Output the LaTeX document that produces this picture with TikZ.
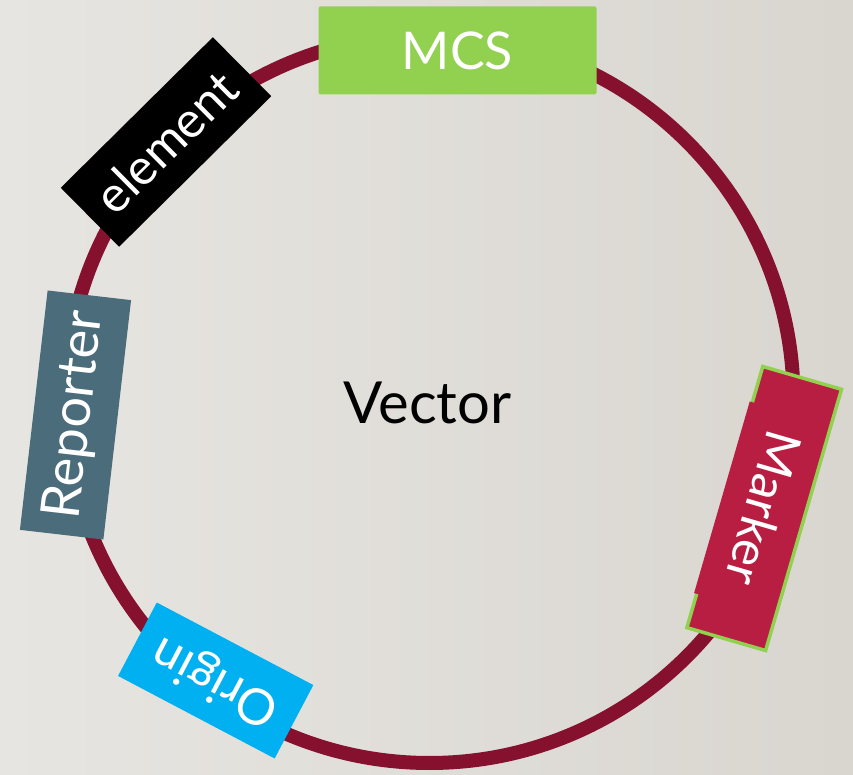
\documentclass[tikz,border=0pt]{standalone}
\usepackage{fontspec}
\setmainfont{Lato}
\usetikzlibrary{calc}
\definecolor{bgleft}{RGB}{231,229,225}
\definecolor{bgright}{RGB}{217,214,208}
\definecolor{ringred}{RGB}{133,17,47}
\definecolor{mcsgreen}{RGB}{146,208,80}
\definecolor{reportergrey}{RGB}{75,108,122}
\definecolor{markerred}{RGB}{184,30,66}
\definecolor{origincyan}{RGB}{0,176,240}

\begin{document}
\begin{tikzpicture}[x=1pt, y=1pt]
    \tikzstyle{genebox} = [inner sep=0pt, text=white, font=\fontsize{50}{58}\selectfont]
    \tikzset{ring/.style = {draw=ringred, line width=14pt}}

    % Backdrop
    \useasboundingbox (0,0) rectangle (853,775);
    \shade[left color=bgleft, right color=bgright] (0,0) rectangle (853,775);

    % Plasmid ring
    \coordinate (hub) at (429.5,376);
    \draw[ring] (hub) circle (364);

    % Parts sitting on the ring
    \node[genebox, fill=mcsgreen, rounded corners=1.5pt, minimum width=278pt, minimum height=88pt,
          font=\fontsize{52}{60}\selectfont] (mcs) at (457.5,724.5) {MCS};
    \node[genebox, fill=black, rotate=44.7, minimum width=214pt, minimum height=83pt] (element) at (166,633) {element};
    \node[genebox, fill=reportergrey, rotate=83.4, minimum width=241pt, minimum height=84pt,
          font=\fontsize{54}{62}\selectfont] (reporter) at (75.5,360) {Reporter};
    \node[genebox, fill=markerred, draw=mcsgreen, line width=3.5pt, rotate=-106.2,
          minimum width=272pt, minimum height=82pt] (marker) at (764.2,266.5) {Marker};
    \node[genebox, fill=origincyan, rotate=152.2, minimum width=177pt, minimum height=83pt] (origin) at (215.7,94.5) {Origin};

    % Gap in the green outline of the marker
    \coordinate (gapA) at ($(marker.south west)!39pt!(marker.south east)$);
    \coordinate (gapB) at ($(marker.south east)!37pt!(marker.south west)$);
    \fill[markerred] ($(gapA)!1pt!-90:(gapB)$) -- ($(gapB)!1pt!90:(gapA)$)
        -- ($(gapB)!6pt!-90:(gapA)$) -- ($(gapA)!6pt!90:(gapB)$) -- cycle;

    % Centre label
    \node[anchor=base, inner sep=0pt, font=\fontsize{58}{66}\selectfont] (vector) at (427.5,351.7) {Vector};
\end{tikzpicture}
\end{document}
